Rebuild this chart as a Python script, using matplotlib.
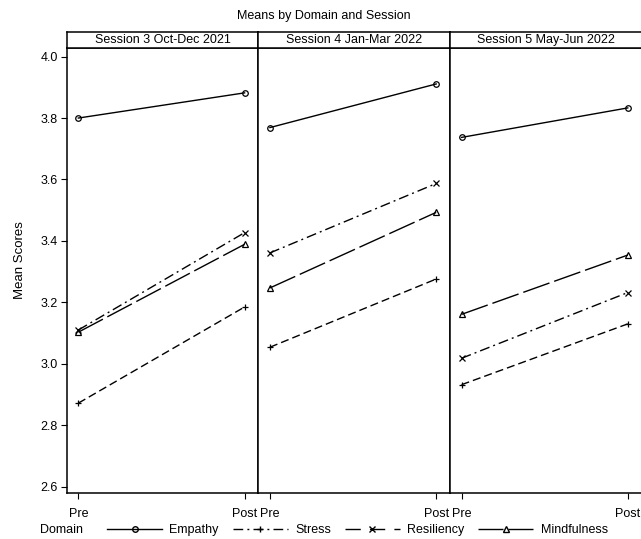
import matplotlib
matplotlib.use("Agg")
from matplotlib import pyplot as plt
from matplotlib.lines import Line2D

plt.rcParams["font.family"] = ["Liberation Sans", "DejaVu Sans"]
plt.rcParams["lines.scale_dashes"] = False

# Means, one [pre, post] pair per session
sessions = ["Session 3 Oct-Dec 2021", "Session 4 Jan-Mar 2022", "Session 5 May-Jun 2022"]
times = ["Pre", "Post"]
empathy = [[3.800, 3.882], [3.769, 3.911], [3.737, 3.833]]
stress = [[2.872, 3.185], [3.054, 3.276], [2.932, 3.130]]
resiliency = [[3.110, 3.427], [3.361, 3.587], [3.018, 3.232]]
mindfulness = [[3.103, 3.389], [3.247, 3.493], [3.161, 3.354]]
yticks = [2.6, 2.8, 3.0, 3.2, 3.4, 3.6, 3.8, 4.0]

# line styles (marker, dash pattern in points)
styles = {
    "Empathy": ("o", "-"),
    "Stress": ("+", (0, (5.8, 2.9))),
    "Resiliency": ("x", (0, (7.2, 2.9, 1.4, 2.9))),
    "Mindfulness": ("^", (0, (20, 3.6))),
}
series = {"Empathy": empathy, "Stress": stress,
          "Resiliency": resiliency, "Mindfulness": mindfulness}

W, H = 641, 539
fig = plt.figure(figsize=(W / 100, H / 100), dpi=100)

left_px, panel_w = 66.7, 191.6
top_px, bottom_px = 47.7, 493.3
strip_top = 31.5

for i, name in enumerate(sessions):
    x0 = (left_px + i * panel_w) / W
    ax = fig.add_axes([x0, (H - bottom_px) / H, panel_w / W, (bottom_px - top_px) / H])
    for dom, vals in series.items():
        mk, ls = styles[dom]
        ax.plot([0, 1], vals[i], color="black", lw=1.0, linestyle=ls,
                marker=mk, markersize=4.5 if mk in "+x" else 4,
                markerfacecolor="none", markeredgewidth=0.9)
    ax.set_xlim(-0.07, 1.0825)
    ax.set_ylim(2.5785, 4.029)
    ax.set_xticks([0, 1])
    ax.set_xticklabels(times, fontsize=9)
    ax.tick_params(axis="x", length=4.3, width=0.8, pad=6)
    if i == 0:
        ax.set_yticks(yticks)
        ax.set_yticklabels([f"{v:.1f}" for v in yticks], fontsize=9)
        ax.tick_params(axis="y", length=4.3, width=0.8, pad=2)
        ax.set_ylabel("Mean Scores", fontsize=9.5)
        ax.yaxis.set_label_coords(-0.215, 0.524)
    else:
        ax.set_yticks([])
    for sp in ax.spines.values():
        sp.set_linewidth(1.1)

    # strip header
    sx = fig.add_axes([x0, (H - top_px) / H, panel_w / W, (top_px - strip_top) / H])
    sx.set_xticks([])
    sx.set_yticks([])
    for sp in sx.spines.values():
        sp.set_linewidth(1.1)
    sx.text(0.5, 0.5, name, ha="center", va="center", fontsize=9,
            transform=sx.transAxes)

fig.text(324 / W, 1 - 15.5 / H, "Means by Domain and Session", ha="center",
         va="center", fontsize=9)

# legend handles as drawn in the reference
handles = [
    Line2D([], [], color="black", lw=1.0, linestyle="-", marker="o",
           markersize=4, markerfacecolor="none"),
    Line2D([], [], color="black", lw=1.0, linestyle=(0, (7, 3, 1.4, 3)),
           marker="+", markersize=5),
    Line2D([], [], color="black", lw=1.0, linestyle=(0, (11, 6.6)),
           marker="x", markersize=4.5),
    Line2D([], [], color="black", lw=1.0, linestyle=(0, (18, 3.6)),
           marker="^", markersize=4, markerfacecolor="none"),
]
fig.text(40 / W, 1 - 530 / H, "Domain", ha="left", va="center", fontsize=9)
fig.legend(handles, list(series.keys()), loc="center left",
           bbox_to_anchor=(107 / W, 1 - 530 / H), ncol=4, frameon=False,
           fontsize=9, numpoints=1, handlelength=4.4, handletextpad=0.6,
           columnspacing=1.1, borderpad=0, borderaxespad=0)

plt.savefig("out.png", dpi=100)
